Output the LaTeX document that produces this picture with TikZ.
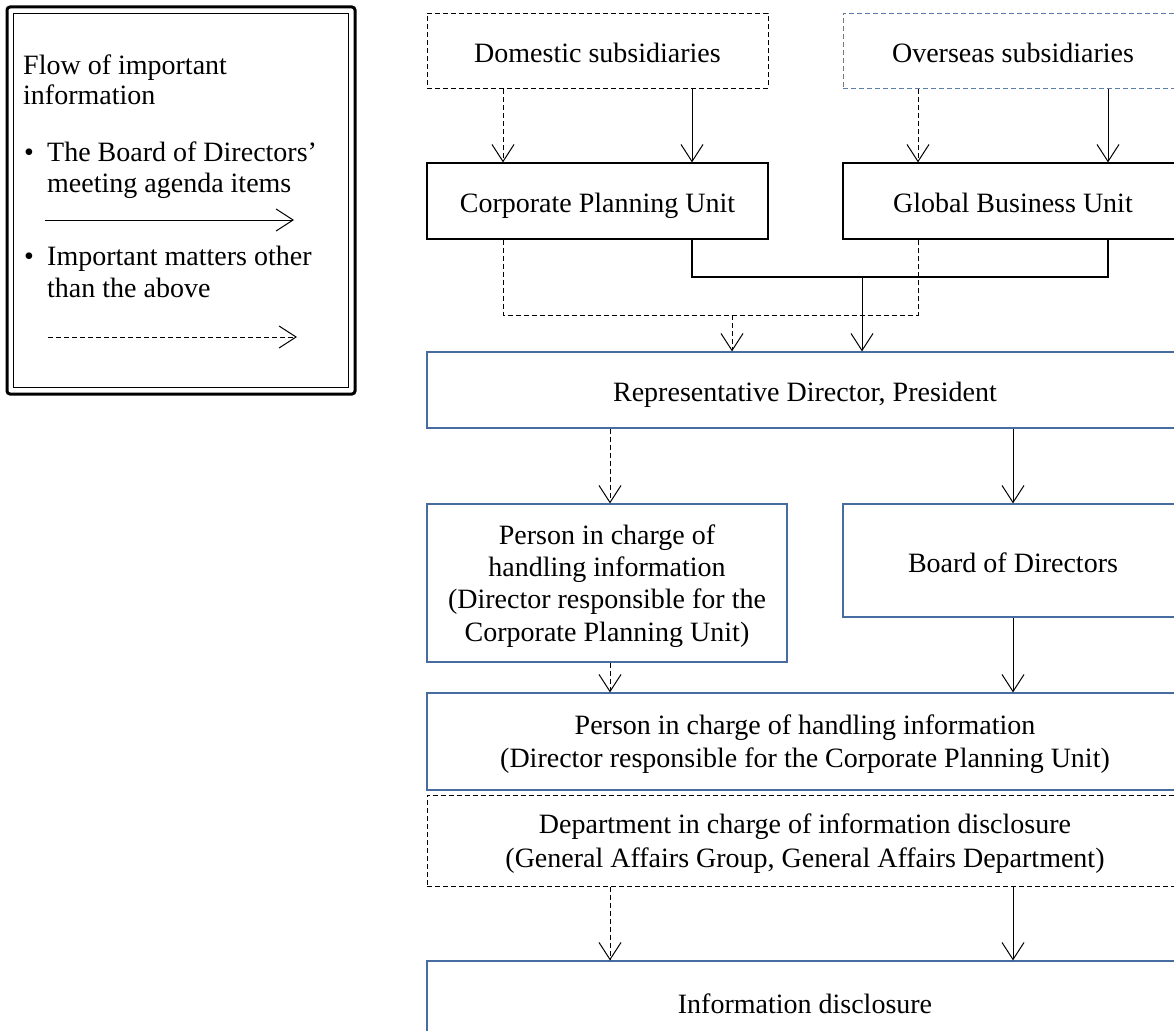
\documentclass[tikz,border=0pt]{standalone}
\usepackage{fontspec}
\setmainfont{Liberation Serif}
\usetikzlibrary{arrows.meta}
\definecolor{boxblue}{RGB}{70,108,160}
\definecolor{dashblue}{RGB}{90,125,175}
\begin{document}
\begin{tikzpicture}[x=1pt,y=-1pt,
  txt/.style={font=\fontsize{28}{33}\selectfont, inner sep=0pt},
  mtxt/.style={txt, align=center},
  box/.style={draw, line width=1.2pt, inner sep=0pt, align=center, font=\fontsize{28}{33}\selectfont},
  oneline/.style={text height=24pt, text depth=1pt},
  bluebox/.style={box, draw=boxblue},
  blackbox/.style={box, draw=black},
  dashbox/.style={box, line width=1pt, dash pattern=on 5pt off 3pt},
  arr/.style={-{Straight Barb[length=17pt,width=22pt,line width=1pt]}, line width=1pt},
  darr/.style={arr, dash pattern=on 5pt off 3pt},
  thickline/.style={line width=2.4pt},
  thinbracket/.style={line width=1pt, dash pattern=on 5pt off 3pt}]
\useasboundingbox (0,0) rectangle (1174,1030);
\clip (0,0) rectangle (1174,1030);
\fill[white] (0,0) rectangle (1174,1030);

% ---------- legend ----------
\draw[line width=3pt, rounded corners=3pt] (7,7) rectangle (355,394);
\draw[line width=1.6pt] (13.5,13.5) rectangle (348.5,387.5);
\node[txt, anchor=base west] (lg1) at (23,75) {Flow of important};
\node[txt, anchor=base west] (lg2) at (23,105) {information};
\node[txt, anchor=base west] (lb1) at (24,161) {•};
\node[txt, anchor=base west] (lg3) at (47,161) {The Board of Directors’};
\node[txt, anchor=base west] (lg4) at (47,192) {meeting agenda items};
\node[txt, anchor=base west] (lb2) at (24,265) {•};
\node[txt, anchor=base west] (lg5) at (47,265) {Important matters other};
\node[txt, anchor=base west] (lg6) at (47,297) {than the above};
\coordinate (la1) at (45,220);
\coordinate (la2) at (294,220);
\coordinate (lb1s) at (48,337);
\coordinate (lb2e) at (297,337);
\draw[arr] (la1) -- (la2);
\draw[darr] (lb1s) -- (lb2e);

% ---------- boxes ----------
\node[blackbox, dashbox, oneline, minimum width=341pt, minimum height=75pt] (dom) at (597.5,51) {Domestic subsidiaries};
\node[box, oneline, draw=dashblue, line width=1pt, dash pattern=on 5pt off 3pt, minimum width=340pt, minimum height=75pt] (ovs) at (1013,51) {Overseas subsidiaries};
\node[blackbox, oneline, minimum width=341pt, minimum height=76pt] (cpu) at (597.5,201) {Corporate Planning Unit};
\node[blackbox, oneline, minimum width=340pt, minimum height=76pt] (gbu) at (1013,201) {Global Business Unit};
\node[bluebox, oneline, minimum width=756pt, minimum height=76pt] (rep) at (805,390) {Representative Director, President};
\node[bluebox, minimum width=360pt, minimum height=158pt] (pic) at (607,583) {};
\node[mtxt, font=\fontsize{28}{32.3}\selectfont] (pict) at ([yshift=-3pt]pic.center) {Person in charge of\\handling information\\(Director responsible for the\\Corporate Planning Unit)};
\node[bluebox, oneline, minimum width=340pt, minimum height=113pt] (bod) at (1013,560.5) {Board of Directors};
\node[bluebox, minimum width=756pt, minimum height=97pt] (pbig) at (805,741.5) {};
\node[mtxt] (pbigt) at ([yshift=-3pt]pbig.center) {Person in charge of handling information\\(Director responsible for the Corporate Planning Unit)};
\node[blackbox, dashbox, minimum width=756pt, minimum height=91pt] (dept) at (805,840.5) {};
\node[mtxt, font=\fontsize{28}{34}\selectfont] (deptt) at ([yshift=-3pt]dept.center) {Department in charge of information disclosure\\(General Affairs Group, General Affairs Department)};
\node[bluebox, oneline, minimum width=756pt, minimum height=82pt] (info) at (805,1002) {Information disclosure};

% ---------- columns ----------
\coordinate (c1) at (503,0);
\coordinate (c2) at (692,0);
\coordinate (c3) at (918,0);
\coordinate (c4) at (1108,0);
\coordinate (c5) at (610,0);
\coordinate (c6) at (1013,0);
\coordinate (jS) at (862,277);
\coordinate (jD) at (732,315);

% subsidiaries -> units
\draw[darr] (c1 |- dom.south) -- (c1 |- cpu.north);
\draw[arr] (c2 |- dom.south) -- (c2 |- cpu.north);
\draw[darr] (c3 |- ovs.south) -- (c3 |- gbu.north);
\draw[arr] (c4 |- ovs.south) -- (c4 |- gbu.north);

% brackets
\draw[thinbracket] (c1 |- cpu.south) -- (c1 |- jD) -- (c3 |- jD) -- (c3 |- gbu.south);
\draw[thickline] (c2 |- cpu.south) -- (c2 |- jS) -- (c4 |- jS) -- (c4 |- gbu.south);
\draw[arr] (jS) -- (jS |- rep.north);
\draw[darr] (jD) -- (jD |- rep.north);

% president -> next
\draw[darr] (c5 |- rep.south) -- (c5 |- pic.north);
\draw[arr] (c6 |- rep.south) -- (c6 |- bod.north);
\draw[darr] (c5 |- pic.south) -- (c5 |- pbig.north);
\draw[arr] (c6 |- bod.south) -- (c6 |- pbig.north);
\draw[darr] (c5 |- dept.south) -- (c5 |- info.north);
\draw[arr] (c6 |- dept.south) -- (c6 |- info.north);
\end{tikzpicture}
\end{document}
